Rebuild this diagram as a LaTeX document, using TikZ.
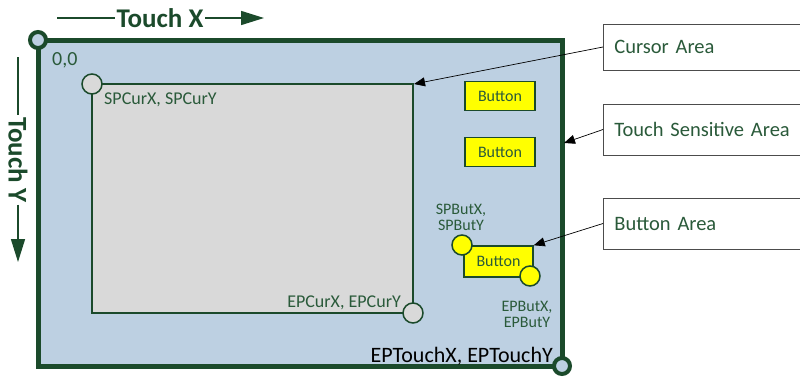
\documentclass[tikz,border=0pt]{standalone}
\usepackage{fontspec}
\setmainfont{Carlito}
\usetikzlibrary{arrows.meta}
\definecolor{dg}{HTML}{1B4A2B}
\definecolor{tg}{HTML}{2A5A3A}
\definecolor{lb}{HTML}{BDD0E2}
\definecolor{lg}{HTML}{D9D9D9}
\definecolor{yl}{HTML}{FFFF00}
\tikzset{
  lbl/.style={text=tg,font=\fontsize{18}{19}\selectfont,inner sep=0pt},
  sml/.style={text=tg,font=\fontsize{16}{17}\selectfont,inner sep=0pt},
  btn/.style={draw=dg,line width=1.5pt,fill=yl,text=tg,font=\fontsize{16}{17}\selectfont,minimum width=70pt,minimum height=29pt,inner sep=0pt},
  callout/.style={draw=black!70,line width=0.8pt,fill=white,text=tg,anchor=west,minimum height=46pt,minimum width=200pt,text width=178pt,align=left,inner xsep=10pt,font=\fontsize{20.5}{22}\selectfont},
  bigcirc/.style={circle,draw=dg,line width=4pt,fill=lb,minimum size=16pt,inner sep=0pt},
  curcirc/.style={circle,draw=dg,line width=1.5pt,fill=lg,minimum size=20pt,inner sep=0pt},
  butcirc/.style={circle,draw=dg,line width=1.5pt,fill=yl,minimum size=20pt,inner sep=0pt},
  pointer/.style={-{Triangle[length=11pt,width=9pt]},line width=0.7pt,black},
  axis/.style={line width=1.5pt,dg},
  axtip/.style={-{Triangle[length=23pt,width=14pt]},line width=1.5pt,dg},
  axlbl/.style={text=dg,font=\fontsize{27}{28}\selectfont\bfseries,inner sep=1.5pt}
}
\begin{document}
\begin{tikzpicture}[x=1pt,y=-1pt]
\useasboundingbox (0,0) rectangle (800,378);
% touch area
\draw[dg,line width=5pt,fill=lb] (38,40) rectangle (562,366);
\node[bigcirc] (tl) at (38,40) {};
\node[bigcirc] (br) at (562,366) {};
\coordinate (touchright) at (564,143);
% cursor area
\draw[dg,line width=1.5pt,fill=lg] (92,84) rectangle (413,313);
\coordinate (curcorner) at (414,84);
\node[curcirc] (spcur) at (92,84) {};
\node[curcirc] (epcur) at (413,313) {};
% labels
\node[lbl,anchor=west] (zero) at (52,60) {\fontsize{20}{21}\selectfont 0,0};
\node[lbl,anchor=west] (spcurl) at (104,100) {SPCurX, SPCurY};
\node[lbl,anchor=east] (epcurl) at (401,303) {EPCurX, EPCurY};
\node[anchor=east,inner sep=0pt,font=\fontsize{22}{23}\selectfont] (eptl) at (553,356) {EPTouchX, EPTouchY};
% buttons
\node[btn] (b1) at (500,96) {Button};
\node[btn] (b2) at (500,152) {Button};
\node[btn,minimum width=69pt,minimum height=31pt] (b3) at (498.5,261.5) {Button};
\node[butcirc] (spbut) at (462,245) {};
\node[butcirc] (epbut) at (530,276) {};
\node[sml,align=center] (spbutl) at (461,217) {SPButX,\\[-1pt]SPButY};
\node[sml,align=center] (epbutl) at (527,314) {EPButX,\\[-1pt]EPButY};
% callouts
\node[callout] (c1) at (603,47) {Cursor Area};
\node[callout,minimum height=51pt] (c2) at (603,129.5) {Touch Sensitive Area};
\node[callout,minimum height=51pt] (c3) at (603,223.5) {Button Area};
\draw[pointer] (c1.west) -- (curcorner);
\draw[pointer] (c2.west) -- (touchright);
\draw[pointer] (c3.west) -- (b3.north east);
% axis labels
\node[axlbl] (tx) at (160,18) {Touch X};
\coordinate (txs) at (57,18);
\coordinate (txe) at (264,18);
\draw[axis] (txs) -- (tx.west);
\draw[axtip] (tx.east) -- (txe);
\node[axlbl,rotate=-90] (ty) at (18,160) {Touch Y};
\coordinate (tys) at (18,57);
\coordinate (tye) at (18,262);
\draw[axis] (tys) -- (ty.west);
\draw[axtip] (ty.east) -- (tye);
\end{tikzpicture}
\end{document}
